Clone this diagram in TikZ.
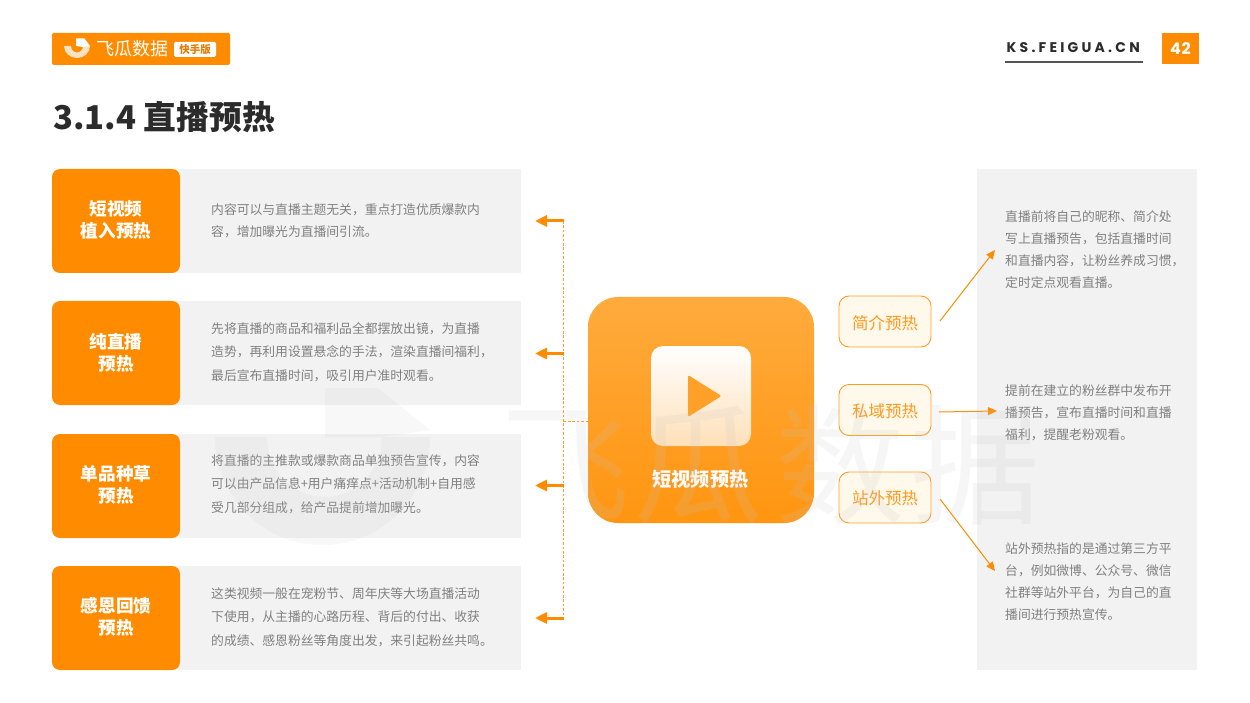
\documentclass[tikz,border=0pt]{standalone}
\usepackage{fontspec}
\setmainfont{Noto Sans CJK SC}
\newfontfamily\latinbold[LetterSpace=23]{Poppins}
\newfontfamily\pagefont[LetterSpace=4]{Poppins}
\usetikzlibrary{arrows.meta,calc}
\definecolor{brand}{HTML}{FF8C00}
\definecolor{panel}{HTML}{F2F2F2}
\definecolor{bodytext}{HTML}{808080}
\definecolor{inkdark}{HTML}{2B2B2B}
\definecolor{pillfill}{HTML}{FFF9EC}
\definecolor{pillline}{HTML}{FF9C1E}
\definecolor{pilltext}{HTML}{FF9A1E}
\definecolor{dashcol}{HTML}{FF9A30}
\definecolor{wmgrey}{HTML}{C4C4C4}
\definecolor{hubtop}{HTML}{FFAB3D}
\definecolor{hubbot}{HTML}{FF9510}
\definecolor{playbot}{HTML}{FFE0B8}
\definecolor{playtri}{HTML}{FFA028}
\tikzset{
  x=1pt,y=-1pt,
  headbox/.style={fill=brand,rounded corners=8pt,minimum width=128pt,minimum height=104pt,inner sep=0pt},
  headtext/.style={inner sep=0pt,text=white,align=center,font=\fontsize{17.6}{22}\selectfont\bfseries},
  bodylabel/.style={anchor=west,inner sep=0pt,align=left,text=bodytext,font=\fontsize{12.8}{#1}\selectfont},
  bodylabel/.default=23.5,
  pillbox/.style={fill=pillfill,draw=pillline,line width=0.9pt,rounded corners=10pt,minimum width=92pt,minimum height=51pt,inner sep=0pt,text=pilltext,text depth=3pt,font=\fontsize{16.5}{20}\selectfont},
  outarrow/.style={draw=brand,line width=1pt,-{Triangle[length=9pt,width=8pt]}},
  inarrow/.style={draw=brand,line width=3pt,-{Triangle[length=12pt,width=11pt]}},
  dashline/.style={draw=dashcol,line width=1pt,dash pattern=on 2.6pt off 1.8pt},
  wm/.style={text=wmgrey,text opacity=0.16,inner sep=0pt,font=\fontsize{130}{130}\selectfont},
}
\begin{document}
\begin{tikzpicture}
\useasboundingbox (0,0) rectangle (1250,703);
% header
\node[fill=brand,rounded corners=1.5pt,minimum width=178pt,minimum height=32pt,inner sep=0pt] (logobar) at (141,49) {};
\fill[white!75!brand] (64,46) arc[start angle=180,end angle=360,x radius=13,y radius=-12] -- (83,46) arc[start angle=0,end angle=-180,x radius=6,y radius=-6.5] -- cycle;
\fill[white] (76,38.5) -- (84.5,38.5) -- (90,46) -- (83,47) -- (76,46) -- cycle;
\node[inner sep=0pt,text=white,font=\fontsize{18}{20}\selectfont] (logotext) at (132,48.5) {飞瓜数据};
\node[fill=white,rounded corners=1.5pt,minimum width=42pt,minimum height=15pt,inner sep=0pt,text=brand!90!black,font=\fontsize{10.5}{12}\selectfont\bfseries] (logotag) at (195,49.5) {快手版};
\node[inner sep=0pt,anchor=west,text=inkdark,font=\latinbold\fontsize{14}{16}\selectfont\bfseries] (site) at (1006.5,47.5) {KS.FEIGUA.CN};
\coordinate (ruleL) at (1005,62);
\coordinate (ruleR) at (1143,62);
\draw[draw=inkdark!80,line width=1.4pt] (ruleL) -- (ruleR);
\node[fill=brand,minimum width=37pt,minimum height=31pt,inner sep=0pt,text=white,font=\pagefont\fontsize{16}{18}\selectfont\bfseries] (pageno) at (1180.5,49) {42};
\node[inner sep=0pt,anchor=west,text=inkdark,font=\fontsize{32.8}{36}\selectfont\bfseries] (title) at (53,117) {3.1.4 直播预热};
% left rows
\fill[panel] (170,169) rectangle (521,273);
\fill[panel] (170,301) rectangle (521,405);
\fill[panel] (170,434) rectangle (521,538);
\fill[panel] (170,566) rectangle (521,670);
\node[headbox] (h1) at (116,221) {};
\node[headbox] (h2) at (116,353) {};
\node[headbox] (h3) at (116,486) {};
\node[headbox] (h4) at (116,618) {};
\node[headtext] (h1t) at (116,219.5) {短视频\\植入预热};
\node[headtext] (h2t) at (116,353) {纯直播\\预热};
\node[headtext] (h3t) at (116,485) {单品种草\\预热};
\node[headtext] (h4t) at (116,617) {感恩回馈\\预热};
\node[bodylabel=22] (t1) at (211,221) {内容可以与直播主题无关，重点打造优质爆款内\\容，增加曝光为直播间引流。};
\node[bodylabel] (t2) at (211,352) {先将直播的商品和福利品全都摆放出镜，为直播\\造势，再利用设置悬念的手法，渲染直播间福利，\\最后宣布直播时间，吸引用户准时观看。};
\node[bodylabel] (t3) at (211,484) {将直播的主推款或爆款商品单独预告宣传，内容\\可以由产品信息+用户痛痒点+活动机制+自用感\\受几部分组成，给产品提前增加曝光。};
\node[bodylabel] (t4) at (211,617) {这类视频一般在宠粉节、周年庆等大场直播活动\\下使用，从主播的心路历程、背后的付出、收获\\的成绩、感恩粉丝等角度出发，来引起粉丝共鸣。};
% right panel
\fill[panel] (977,169) rectangle (1197,670);
\node[bodylabel=22] (r1) at (1005,250) {直播前将自己的昵称、简介处\\写上直播预告，包括直播时间\\和直播内容，让粉丝养成习惯，\\定时定点观看直播。};
\node[bodylabel=22] (r2) at (1005,413) {提前在建立的粉丝群中发布开\\播预告，宣布直播时间和直播\\福利，提醒老粉观看。};
\node[bodylabel=22] (r3) at (1005,582) {站外预热指的是通过第三方平\\台，例如微博、公众号、微信\\社群等站外平台，为自己的直\\播间进行预热宣传。};
% centre
\node[rounded corners=30pt,top color=hubtop,bottom color=hubbot,minimum width=226pt,minimum height=226pt,inner sep=0pt] (hub) at (701,410) {};
\node[rounded corners=12pt,top color=white,bottom color=playbot,minimum width=100pt,minimum height=100pt,inner sep=0pt] (play) at (701,396) {};
\fill[playtri,rounded corners=2pt] (688,375) -- (721.5,396) -- (688,417) -- cycle;
\node[inner sep=0pt,text=white,font=\fontsize{19.2}{22}\selectfont\bfseries] (hubtext) at (700.5,479) {短视频预热};
% pills
\node[pillbox,text height=19pt] (p1) at (885,321.5) {简介预热};
\node[pillbox,text height=18pt] (p2) at (885,410) {私域预热};
\node[pillbox,text height=17pt] (p3) at (885,497.5) {站外预热};
% connectors
\coordinate (a1s) at (940,321); \coordinate (a1e) at (995,250);
\coordinate (a2s) at (939,412); \coordinate (a2e) at (997,411);
\coordinate (a3s) at (940,499); \coordinate (a3e) at (995,571);
\draw[outarrow] (a1s) -- (a1e);
\draw[outarrow] (a2s) -- (a2e);
\draw[outarrow] (a3s) -- (a3e);
\coordinate (b1) at (564,221); \coordinate (b2) at (564,353.5); \coordinate (b3) at (564,485.5); \coordinate (b4) at (564,618);
\coordinate (c1) at (535,221); \coordinate (c2) at (535,353.5); \coordinate (c3) at (535,485.5); \coordinate (c4) at (535,618);
\coordinate (j) at (563.5,421); \coordinate (hubL) at (588,421);
\draw[dashline] (563.5,221) -- (563.5,618);
\draw[dashline] (j) -- (hubL);
\draw[inarrow] (b1) -- (c1);
\draw[inarrow] (b2) -- (c2);
\draw[inarrow] (b3) -- (c3);
\draw[inarrow] (b4) -- (c4);
% watermark
\fill[wmgrey,opacity=0.12] (215,437) arc[start angle=180,end angle=360,x radius=107.5,y radius=-108] -- (382,437) arc[start angle=0,end angle=-180,x radius=57.5,y radius=-60] -- cycle;
\fill[wmgrey,opacity=0.12] (325,388) -- (378,388) -- (430,430) -- (382,437) -- (325,437) -- cycle;
\node[wm] (w1) at (565,465) {飞};
\node[wm] (w2) at (698,465) {瓜};
\node[wm] (w3) at (840,465) {数};
\node[wm] (w4) at (975,465) {据};
\end{tikzpicture}
\end{document}
